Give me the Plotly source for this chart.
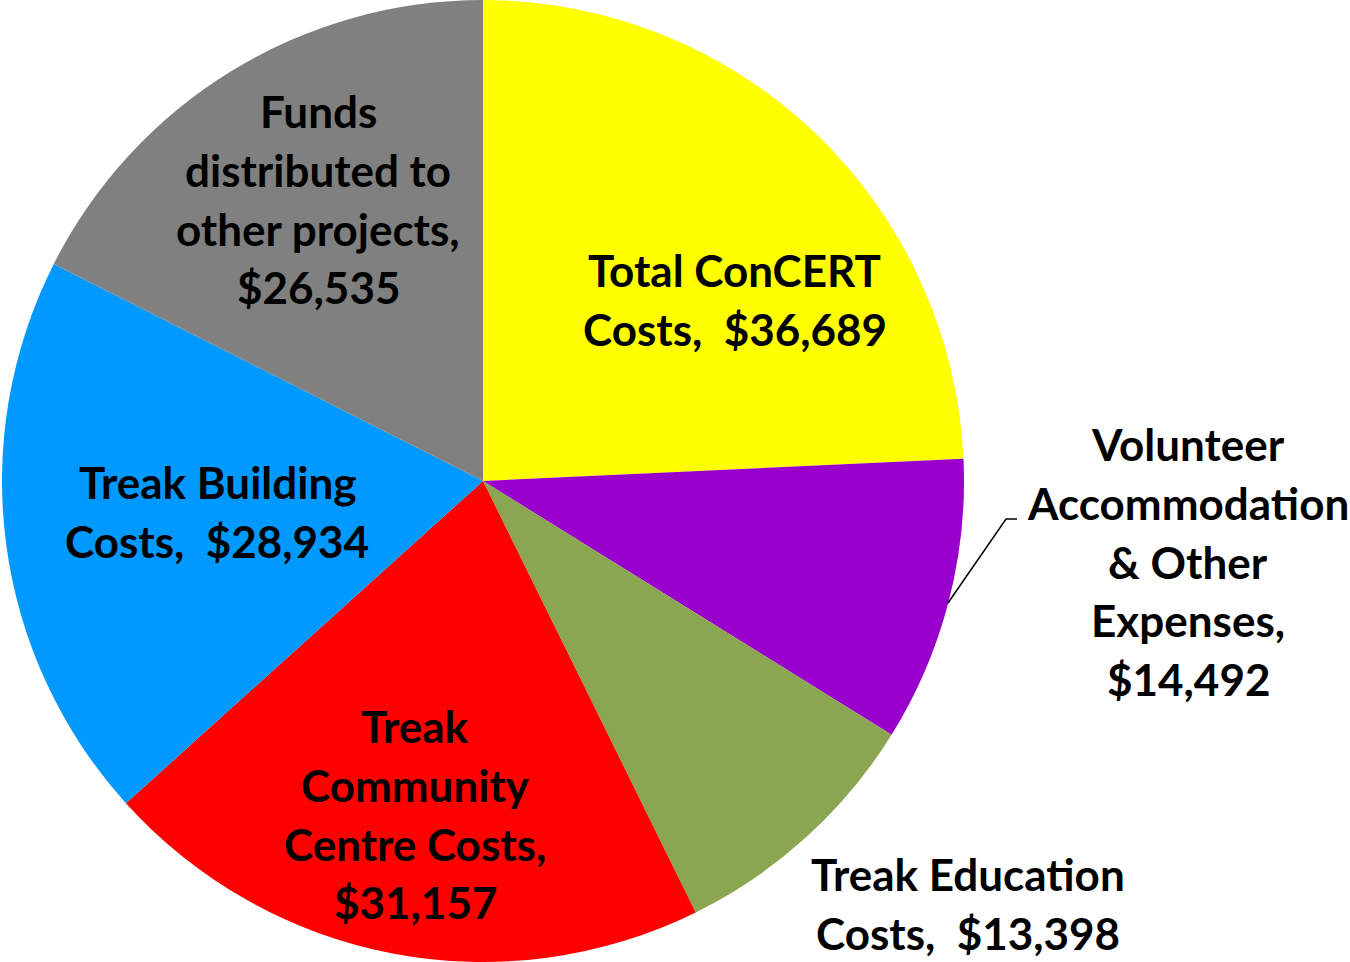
import plotly.graph_objects as go

categories = ["Total ConCERT Costs", "Volunteer Accommodation & Other Expenses",
              "Treak Education Costs", "Treak Community Centre Costs",
              "Treak Building Costs", "Funds distributed to other projects"]
values = [36689, 14492, 13398, 31157, 28934, 26535]
colors = ["#FFFF00", "#9900CC", "#8BA650", "#FF0000", "#0099FF", "#808080"]

# label lines per slice and their centre positions (px)
label_lines = [
    ["Total ConCERT", "Costs,  $36,689"],
    ["Volunteer", "Accommodation", "& Other", "Expenses,", "$14,492"],
    ["Treak Education", "Costs,  $13,398"],
    ["Treak", "Community", "Centre Costs,", "$31,157"],
    ["Treak Building", "Costs,  $28,934"],
    ["Funds", "distributed to", "other projects,", "$26,535"],
]
label_pos = [(735, 270), (1188, 444), (968, 874), (415, 726), (217, 482), (318, 111)]
LINE_H = 58.8

W, H = 1350, 962
fig = go.Figure(go.Pie(
    labels=categories, values=values, sort=False, direction="clockwise",
    rotation=0, marker=dict(colors=colors, line=dict(width=0)),
    textinfo="none", hoverinfo="label+value", showlegend=False,
    domain=dict(x=[1 / W, 965 / W], y=[0, 1]),
))

font = dict(family="Lato", size=44, color="black", weight="bold")
annotations = []
for lines, (cx, cy) in zip(label_lines, label_pos):
    for i, ln in enumerate(lines):
        y = cy + i * LINE_H
        annotations.append(dict(text="<b>" + ln + "</b>", x=cx / W, y=1 - y / H,
                                xref="paper", yref="paper", showarrow=False,
                                xanchor="center", yanchor="middle", font=font))
fig.update_layout(annotations=annotations)

# leader line for volunteer label
fig.add_shape(type="path", path=f"M {948/W} {1-603/H} L {1006/W} {1-519/H} L {1017/W} {1-519/H}",
              xref="paper", yref="paper", line=dict(color="black", width=1.5))

fig.update_layout(width=W, height=H, margin=dict(l=0, r=0, t=0, b=0),
                  paper_bgcolor="white", plot_bgcolor="white")
fig.write_html("out.html", config={"displayModeBar": False},
               post_script="document.body.style.margin='0';")
